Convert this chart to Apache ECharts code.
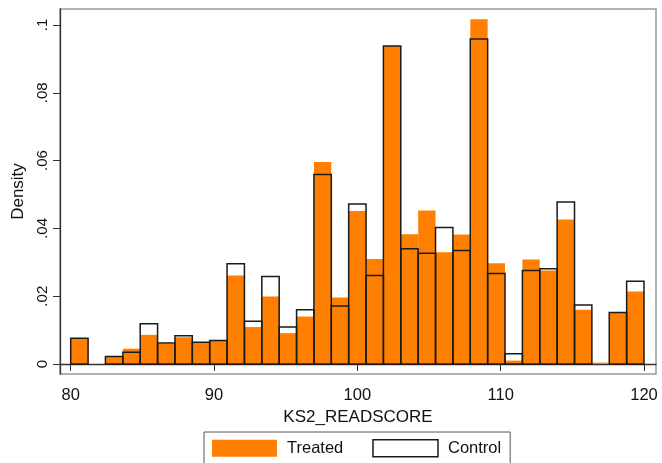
<!DOCTYPE html>
<html>
<head>
<meta charset="utf-8">
<script src="https://cdn.jsdelivr.net/npm/echarts@6/dist/echarts.min.js"></script>
<style>
html,body{margin:0;padding:0;background:#fff;}
#chart{width:662px;height:463px;}
</style>
</head>
<body>
<div id="chart"></div>
<script>
// Histogram bins: 33 bins of equal width spanning 80..120
const binStart = 80;
const binEnd = 120;
const binCount = 33;
const xTicks = [80, 90, 100, 110, 120];
const yTicks = [0, 0.02, 0.04, 0.06, 0.08, 0.1];
const yTickLabels = ['0', '.02', '.04', '.06', '.08', '.1'];

const treated = [0.0076, 0, 0.0022, 0.0045, 0.0086, 0.0060, 0.0079, 0.0063, 0.0068, 0.0261,
  0.0109, 0.0199, 0.0091, 0.0140, 0.0596, 0.0196, 0.0451, 0.0310, 0.0938, 0.0383,
  0.0453, 0.0330, 0.0382, 0.1017, 0.0297, 0.0010, 0.0308, 0.0276, 0.0426, 0.0160,
  0.0004, 0.0152, 0.0214];
const control = [0.0076, 0, 0.0022, 0.0035, 0.0119, 0.0062, 0.0083, 0.0064, 0.0069, 0.0296,
  0.0126, 0.0258, 0.0109, 0.0160, 0.0559, 0.0171, 0.0472, 0.0261, 0.0938, 0.0340,
  0.0327, 0.0403, 0.0335, 0.0959, 0.0267, 0.0030, 0.0276, 0.0281, 0.0478, 0.0174,
  0, 0.0152, 0.0244];

const binWidth = (binEnd - binStart) / binCount;
function toBins(vals) {
  return vals.map((v, i) => [binStart + i * binWidth, binStart + (i + 1) * binWidth, v]);
}

function makeRender(fill, stroke, lw) {
  return function (params, api) {
    const v = api.value(2);
    if (!(v > 0)) return null;
    const p0 = api.coord([api.value(0), v]);
    const p1 = api.coord([api.value(1), 0]);
    return {
      type: 'rect',
      shape: { x: p0[0], y: p0[1], width: p1[0] - p0[0], height: p1[1] - p0[1] },
      style: { fill: fill, stroke: stroke, lineWidth: lw }
    };
  };
}

const FONT = '"Liberation Sans", Arial, sans-serif';
const chart = echarts.init(document.getElementById('chart'), null, { renderer: 'canvas' });
chart.setOption({
  animation: false,
  backgroundColor: '#fff',
  grid: { left: 60, right: 6, top: 9, bottom: 89, show: true, borderColor: '#9a9a9a', borderWidth: 1.5, containLabel: false },
  xAxis: {
    type: 'value', min: 79.253, max: 120.837,
    name: 'KS2_READSCORE', nameLocation: 'middle', nameGap: 31,
    nameTextStyle: { fontFamily: FONT, fontSize: 17, color: '#111' },
    axisLine: { show: true, lineStyle: { color: '#333', width: 1.3 } },
    axisTick: { show: true, length: 7, customValues: xTicks, lineStyle: { color: '#333' } },
    axisLabel: { customValues: xTicks, margin: 13, fontFamily: FONT, fontSize: 16.5, color: '#111' },
    splitLine: { show: false }
  },
  yAxis: {
    type: 'value', min: -0.00295, max: 0.10472,
    name: 'Density', nameLocation: 'middle', nameGap: 27, nameRotate: 90,
    nameTextStyle: { fontFamily: FONT, fontSize: 17, color: '#111' },
    axisLine: { show: true, lineStyle: { color: '#333', width: 1.3 } },
    axisTick: { show: true, length: 7, customValues: yTicks, lineStyle: { color: '#333' } },
    axisLabel: {
      customValues: yTicks, rotate: 90, margin: 10, fontFamily: FONT, fontSize: 15, color: '#111',
      formatter: function (v) {
        const i = yTicks.findIndex(t => Math.abs(t - v) < 1e-9);
        return i >= 0 ? yTickLabels[i] : '';
      }
    },
    splitLine: { show: false }
  },
  legend: {
    left: 204, top: 432,
    orient: 'horizontal',
    padding: [7, 9, 7, 8],
    itemWidth: 65, itemHeight: 17, itemGap: 29,
    borderColor: '#555', borderWidth: 1,
    textStyle: { fontFamily: FONT, fontSize: 16.5, color: '#111', padding: [0, 0, 0, 5] },
    data: [
      { name: 'Treated', icon: 'rect', itemStyle: { color: '#ff8000', borderWidth: 0 } },
      { name: 'Control', icon: 'rect', itemStyle: { color: '#ffffff', borderColor: '#1a1a1a', borderWidth: 1.5 } }
    ]
  },
  series: [
    {
      name: 'Treated', type: 'custom', renderItem: makeRender('#ff8000', null, 0),
      itemStyle: { color: '#ff8000' },
      encode: { x: [0, 1], y: 2 },
      data: toBins(treated), z: 2
    },
    {
      name: 'Control', type: 'custom', renderItem: makeRender('none', '#1a1a1a', 1.5),
      itemStyle: { color: '#ffffff', borderColor: '#1a1a1a', borderWidth: 1.5 },
      encode: { x: [0, 1], y: 2 },
      data: toBins(control), z: 3
    }
  ]
});
</script>
</body>
</html>
